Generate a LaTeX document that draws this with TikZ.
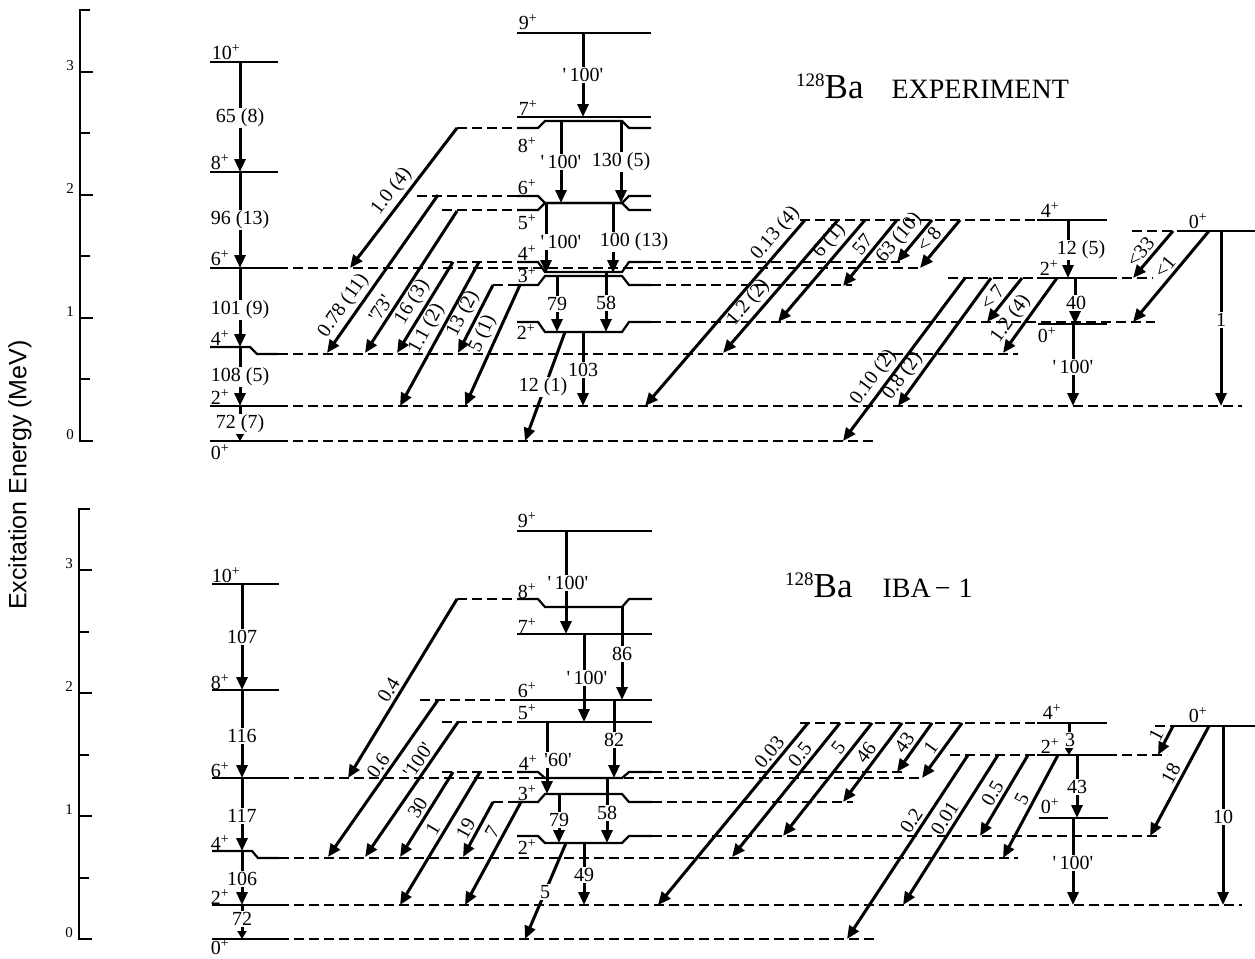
\documentclass[tikz,border=0pt]{standalone}
\usepackage{fontspec}
\setmainfont{Liberation Serif}
\newfontfamily\axfont{Liberation Sans}
\usetikzlibrary{arrows.meta}
\newcommand\lf{\fontsize{20}{22}\selectfont}
\newcommand\apo{\textquotesingle}
\newcommand\dg[7]{\coordinate (#1s) at (#2,#3); \coordinate (#1e) at (#4,#5);
  \draw[gar] (#1s) -- (#1e) node[dlab,pos=#6] (#1l) {#7};}
\newcommand\vt[7]{\coordinate (#1s) at (#2,#3); \coordinate (#1e) at (#2,#4);
  \draw[gar] (#1s) -- (#1e); \node[vlab] (#1l) at (#5,#6) {#7};}
\begin{document}
\begin{tikzpicture}[x=1pt,y=-1pt,
  lev/.style={line width=2.2pt},
  dl/.style={line width=2pt,dash pattern=on 10pt off 5pt},
  gar/.style={line width=3pt,-{Triangle[length=13pt,width=11pt]}},
  sgar/.style={line width=3pt,-{Triangle[length=8pt,width=9pt]}},
  vlab/.style={fill=white,inner sep=1pt,font=\lf},
  dlab/.style={sloped,above=2pt,inner sep=1pt,font=\lf},
  jl/.style={font=\lf,inner sep=0pt},
  axn/.style={font=\fontsize{15}{16}\selectfont,inner sep=0pt},
  ax/.style={line width=1.8pt}]
\useasboundingbox (0,0) rectangle (1255,958);

% ---------------- axes ----------------
\node[rotate=90,font=\axfont\fontsize{25}{28}\selectfont] (ylab) at (20,475) {Excitation Energy (MeV)};
\draw[ax] (90,10)--(80,10)--(80,441)--(93,441);
\foreach \y in {72,195,318} \draw[ax] (80,\y)--(93,\y);
\foreach \y in {133,256,379} \draw[ax] (80,\y)--(90,\y);
\node[axn] (ta0) at (70,435) {0};
\node[axn] (ta1) at (70,312) {1};
\node[axn] (ta2) at (70,189) {2};
\node[axn] (ta3) at (70,66) {3};
\draw[ax] (90,509)--(79,509)--(79,939)--(92,939);
\foreach \y in {570,693,816} \draw[ax] (79,\y)--(92,\y);
\foreach \y in {632,755,878} \draw[ax] (79,\y)--(89,\y);
\node[axn] (ba0) at (69,933) {0};
\node[axn] (ba1) at (69,810) {1};
\node[axn] (ba2) at (69,687) {2};
\node[axn] (ba3) at (69,564) {3};

% ---------------- titles ----------------
\node[anchor=base west,inner sep=0pt] (ttop) at (796,98)
  {\fontsize{19}{20}\selectfont\raisebox{12pt}{128}\fontsize{35}{36}\selectfont Ba\hspace{28pt}\fontsize{28}{29}\selectfont EXPERIMENT};
\node[anchor=base west,inner sep=0pt] (tbot) at (785,597)
  {\fontsize{19}{20}\selectfont\raisebox{12pt}{128}\fontsize{35}{36}\selectfont Ba\hspace{30pt}\fontsize{28}{29}\selectfont IBA\kern4pt\char"2212\kern8pt 1};

% =============== TOP PANEL: levels ===============
% ground band
\draw[lev] (210,62)--(278,62);
\draw[lev] (210,172)--(278,172);
\draw[lev] (210,268)--(278,268); \draw[dl] (278,268)--(923,268);
\draw[lev] (210,347)--(250,347)--(257,354)--(278,354); \draw[dl] (278,354)--(1018,354);
\draw[lev] (210,406)--(278,406); \draw[dl] (278,406)--(1242,406);
\draw[lev] (210,441)--(278,441); \draw[dl] (278,441)--(873,441);
% gamma band
\draw[lev] (517,33)--(651,33);
\draw[lev] (517,117)--(651,117);
\draw[dl] (457,128)--(517,128);
\draw[lev] (517,128)--(538,128)--(545,121)--(622,121)--(629,128)--(651,128);
\draw[dl] (417,196)--(517,196);
\draw[lev] (517,196)--(538,196)--(545,203)--(622,203)--(629,196)--(651,196);
\draw[dl] (442,210)--(517,210);
\draw[lev] (517,210)--(538,210)--(545,203)--(622,203)--(629,210)--(651,210);
\draw[dl] (442,262)--(517,262);
\draw[lev] (517,262)--(538,262)--(545,272)--(622,272)--(629,262)--(651,262);
\draw[dl] (651,262)--(900,262);
\draw[dl] (493,285)--(517,285);
\draw[lev] (517,285)--(538,285)--(545,276)--(622,276)--(629,285)--(651,285);
\draw[dl] (651,285)--(852,285);
\draw[lev] (517,322)--(538,322)--(545,332)--(622,332)--(629,322)--(651,322);
\draw[dl] (651,322)--(1155,322);
% right column
\draw[dl] (800,220)--(1037,220); \draw[lev] (1037,220)--(1107,220);
\draw[dl] (948,278)--(1037,278); \draw[lev] (1037,278)--(1107,278); \draw[dl] (1107,278)--(1153,278);
\draw[lev] (1038,324)--(1107,324);
\draw[dl] (1132,231)--(1187,231); \draw[lev] (1187,231)--(1255,231);

% level labels top
\node[jl] (lt10) at (226,52) {10\textsuperscript{+}};
\node[jl] (lt8) at (220,162) {8\textsuperscript{+}};
\node[jl] (lt6) at (220,258) {6\textsuperscript{+}};
\node[jl] (lt4) at (220,338) {4\textsuperscript{+}};
\node[jl] (lt2) at (220,397) {2\textsuperscript{+}};
\node[jl] (lt0) at (220,452) {0\textsuperscript{+}};
\node[jl] (lg9) at (528,22) {9\textsuperscript{+}};
\node[jl] (lg7) at (528,108) {7\textsuperscript{+}};
\node[jl] (lg8) at (527,145) {8\textsuperscript{+}};
\node[jl] (lg6) at (527,187) {6\textsuperscript{+}};
\node[jl] (lg5) at (527,222) {5\textsuperscript{+}};
\node[jl] (lg4) at (527,253) {4\textsuperscript{+}};
\node[jl] (lg3) at (527,275) {3\textsuperscript{+}};
\node[jl] (lg2) at (526,332) {2\textsuperscript{+}};
\node[jl] (lr4) at (1050,210) {4\textsuperscript{+}};
\node[jl] (lr2) at (1049,268) {2\textsuperscript{+}};
\node[jl] (lr0) at (1047,335) {0\textsuperscript{+}};
\node[jl] (lr0b) at (1198,221) {0\textsuperscript{+}};

% transitions top
\vt{a1}{240}{62}{172}{240}{118}{65 (8)}
\vt{a2}{240}{172}{268}{240}{220}{96 (13)}
\vt{a3}{240}{268}{347}{240}{310}{101 (9)}
\vt{a4}{240}{347}{406}{240}{377}{108 (5)}
\coordinate (a5s) at (240,406); \coordinate (a5e) at (240,441);
\draw[sgar] (a5s)--(a5e); \node[vlab] (a5l) at (240,424) {72 (7)};

\vt{b1}{583}{33}{117}{583}{75}{\apo\,100\apo}
\vt{b2}{561}{121}{203}{561}{162}{\apo\,100\apo}
\vt{b3}{621}{121}{203}{621}{162}{130 (5)}
\vt{b4}{546}{203}{273}{561}{242}{\apo\,100\apo}
\vt{b5}{613}{203}{273}{634}{242}{100 (13)}
\vt{b6}{557}{276}{332}{557}{304}{79}
\vt{b7}{606}{273}{332}{606}{303}{58}
\vt{b8}{583}{332}{406}{583}{370}{103}
\coordinate (b9s) at (565,332); \coordinate (b9e) at (525,441);
\draw[gar] (b9s)--(b9e); \node[vlab] (b9l) at (543,387) {12 (1)};

\vt{c1}{1068}{220}{278}{1081}{250}{12 (5)}
\vt{c2}{1075}{278}{324}{1076}{303}{40}
\vt{c3}{1073}{324}{406}{1073}{367}{\apo\,100\apo}
\vt{c4}{1221}{231}{406}{1221}{320}{1}

\dg{d1}{457}{128}{350}{268}{0.51}{1.0 (4)}
\dg{d2}{438}{195}{327}{353}{0.75}{0.78 (11)}
\dg{d3}{457}{211}{365}{353}{0.73}{\apo73\apo}
\dg{d4}{453}{262}{397}{353}{0.52}{16 (3)}
\dg{d5}{479}{262}{400}{406}{0.51}{1.1 (2)}
\dg{d6}{493}{285}{458}{353}{0.51}{13 (2)}
\dg{d7}{520}{285}{465}{406}{0.45}{5 (1)}
\dg{d8}{805}{220}{645}{406}{0.12}{0.13 (4)}
\dg{d9}{838}{220}{723}{353}{0.69}{1.2 (2)}
\dg{d10}{865}{220}{778}{322}{0.29}{6 (1)}
\dg{d11}{897}{220}{843}{286}{0.48}{57}
\dg{d12}{932}{220}{897}{262}{0.64}{63 (10)}
\dg{d13}{960}{220}{920}{268}{0.56}{< 8}
\dg{d14}{965}{278}{843}{441}{0.66}{0.10 (2)}
\dg{d15}{991}{278}{898}{406}{0.83}{0.8 (2)}
\dg{d16}{1022}{278}{987}{322}{0.6}{< 7}
\dg{d17}{1057}{278}{1003}{353}{0.65}{1.2 (4)}
\dg{d18}{1173}{231}{1133}{278}{0.6}{<33}
\dg{d19}{1209}{231}{1133}{322}{0.47}{<1}

% =============== BOTTOM PANEL: levels ===============
\draw[lev] (212,584)--(279,584);
\draw[lev] (212,690)--(279,690);
\draw[lev] (212,778)--(279,778); \draw[dl] (279,778)--(920,778);
\draw[lev] (212,851)--(252,851)--(258,858)--(279,858); \draw[dl] (279,858)--(1018,858);
\draw[lev] (212,905)--(279,905); \draw[dl] (279,905)--(1242,905);
\draw[lev] (212,939)--(279,939); \draw[dl] (279,939)--(875,939);
% gamma band
\draw[lev] (517,531)--(652,531);
\draw[dl] (457,599)--(517,599);
\draw[lev] (517,599)--(538,599)--(545,607)--(622,607)--(629,599)--(652,599);
\draw[lev] (517,634)--(652,634);
\draw[dl] (420,700)--(517,700); \draw[lev] (517,700)--(652,700);
\draw[dl] (442,722)--(517,722); \draw[lev] (517,722)--(652,722);
\draw[dl] (442,772)--(517,772);
\draw[lev] (517,772)--(538,772)--(545,778)--(622,778)--(629,772)--(652,772);
\draw[dl] (652,772)--(903,772);
\draw[dl] (493,802)--(517,802);
\draw[lev] (517,802)--(538,802)--(545,794)--(622,794)--(629,802)--(652,802);
\draw[dl] (652,802)--(853,802);
\draw[lev] (517,836)--(538,836)--(545,843)--(622,843)--(629,836)--(652,836);
\draw[dl] (652,836)--(1160,836);
% right column
\draw[dl] (800,723)--(1037,723); \draw[lev] (1037,723)--(1107,723);
\draw[dl] (950,755)--(1037,755); \draw[lev] (1037,755)--(1107,755); \draw[dl] (1107,755)--(1167,755);
\draw[lev] (1039,818)--(1108,818);
\draw[dl] (1155,726)--(1180,726); \draw[lev] (1180,726)--(1255,726);

% level labels bottom
\node[jl] (mt10) at (226,575) {10\textsuperscript{+}};
\node[jl] (mt8) at (220,682) {8\textsuperscript{+}};
\node[jl] (mt6) at (220,770) {6\textsuperscript{+}};
\node[jl] (mt4) at (220,843) {4\textsuperscript{+}};
\node[jl] (mt2) at (220,897) {2\textsuperscript{+}};
\node[jl] (mt0) at (220,947) {0\textsuperscript{+}};
\node[jl] (mg9) at (527,520) {9\textsuperscript{+}};
\node[jl] (mg8) at (527,591) {8\textsuperscript{+}};
\node[jl] (mg7) at (527,626) {7\textsuperscript{+}};
\node[jl] (mg6) at (527,690) {6\textsuperscript{+}};
\node[jl] (mg5) at (527,712) {5\textsuperscript{+}};
\node[jl] (mg4) at (528,763) {4\textsuperscript{+}};
\node[jl] (mg3) at (527,793) {3\textsuperscript{+}};
\node[jl] (mg2) at (527,847) {2\textsuperscript{+}};
\node[jl] (mr4) at (1052,712) {4\textsuperscript{+}};
\node[jl] (mr2) at (1050,746) {2\textsuperscript{+}};
\node[jl] (mr0) at (1050,806) {0\textsuperscript{+}};
\node[jl] (mr0b) at (1198,715) {0\textsuperscript{+}};

% transitions bottom
\vt{e1}{242}{584}{690}{242}{637}{107}
\vt{e2}{242}{690}{778}{242}{736}{116}
\vt{e3}{242}{778}{851}{242}{816}{117}
\vt{e4}{242}{851}{905}{242}{879}{106}
\coordinate (e5s) at (242,905); \coordinate (e5e) at (242,939);
\draw[sgar] (e5s)--(e5e); \node[vlab] (e5l) at (242,919) {72};

\vt{f1}{566}{531}{634}{568}{583}{\apo\,100\apo}
\vt{f2}{622}{607}{700}{622}{654}{86}
\vt{f3}{584}{634}{722}{587}{678}{\apo\,100\apo}
\vt{f4}{547}{722}{794}{558}{760}{\apo60\apo}
\vt{f5}{614}{700}{778}{614}{740}{82}
\vt{f6}{559}{794}{843}{559}{820}{79}
\vt{f7}{607}{778}{843}{607}{813}{58}
\vt{f8}{584}{843}{905}{584}{875}{49}
\coordinate (f9s) at (566,843); \coordinate (f9e) at (525,939);
\draw[gar] (f9s)--(f9e); \node[vlab] (f9l) at (545,892) {5};

\coordinate (g1s) at (1069,723); \coordinate (g1e) at (1069,755);
\draw[sgar] (g1s)--(g1e); \node[vlab] (g1l) at (1070,740) {3};
\vt{g2}{1077}{755}{818}{1077}{787}{43}
\vt{g3}{1073}{818}{905}{1073}{863}{\apo\,100\apo}
\vt{g4}{1223}{726}{905}{1223}{817}{10}

\dg{h1}{457}{599}{348}{778}{0.54}{0.4}
\dg{h2}{438}{700}{328}{857}{0.46}{0.6}
\dg{h3}{458}{722}{365}{857}{0.33}{\apo100\apo}
\dg{h4}{453}{772}{400}{857}{0.49}{30}
\dg{h5}{480}{772}{400}{905}{0.47}{1}
\dg{h6}{493}{802}{463}{857}{0.58}{19}
\dg{h7}{521}{802}{465}{905}{0.34}{7}
\dg{h8}{808}{723}{658}{905}{0.2}{0.03}
\dg{h9}{840}{723}{732}{857}{0.29}{0.5}
\dg{h10}{872}{723}{783}{836}{0.28}{5}
\dg{h11}{902}{723}{843}{802}{0.46}{46}
\dg{h12}{932}{723}{897}{772}{0.53}{43}
\dg{h13}{962}{723}{922}{778}{0.56}{1}
\dg{h14}{968}{755}{847}{939}{0.39}{0.2}
\dg{h15}{998}{755}{903}{905}{0.46}{0.01}
\dg{h16}{1028}{755}{980}{836}{0.54}{0.5}
\dg{h17}{1058}{755}{1003}{858}{0.48}{5}
\dg{h18}{1173}{726}{1158}{755}{0.48}{1}
\dg{h19}{1209}{726}{1150}{836}{0.48}{18}
\end{tikzpicture}
\end{document}
